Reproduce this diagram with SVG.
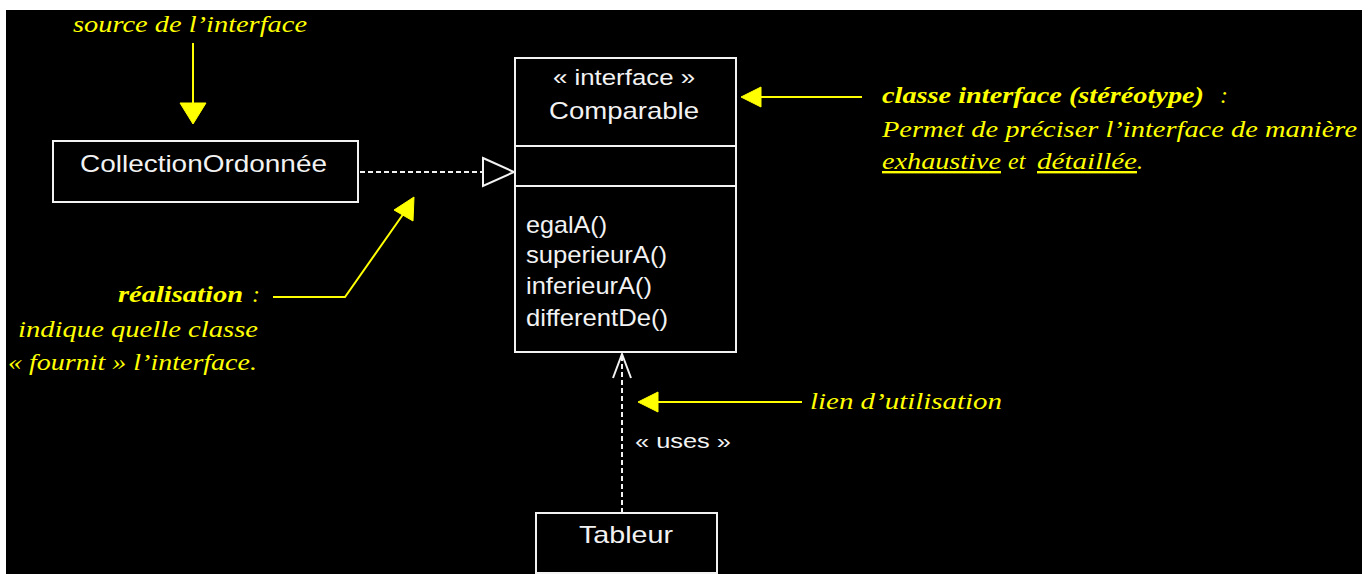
<svg xmlns="http://www.w3.org/2000/svg" width="1371" height="574" viewBox="0 0 1371 574">
<style>
.bg{fill:#000}
.box{fill:#000;stroke:#f2f2f2;stroke-width:2}
.w{fill:#f2f2f2;font-family:"Liberation Sans",Arial,sans-serif;font-size:24px}
.y{fill:#ffff00;font-family:"Liberation Serif","Times New Roman",serif;font-style:italic;font-size:24px}
.b{font-weight:bold}
.dash{fill:none;stroke:#f2f2f2;stroke-width:2;stroke-dasharray:5 3}
.open{fill:none;stroke:#f2f2f2;stroke-width:2}
.yl{fill:none;stroke:#ffff00;stroke-width:2}
.yh{fill:#ffff00;stroke:#ffff00;stroke-width:1}
</style>
<rect width="1371" height="574" fill="#fff"/>
<rect class="bg" x="6" y="10" width="1356" height="564"/>

<g id="connectors">
  <!-- realization -->
  <line class="dash" x1="360" y1="172" x2="482" y2="172"/>
  <polygon points="483,158 514,172 483,186" fill="#000" stroke="#f2f2f2" stroke-width="2"/>
  <!-- uses -->
  <line class="dash" x1="622" y1="513" x2="622" y2="355"/>
  <polyline class="open" points="613,378 622,354 631,378"/>
  <text class="w" x="635" y="448" textLength="96" lengthAdjust="spacingAndGlyphs" style="font-size:21px">« uses »</text>
</g>

<g id="CollectionOrdonnee">
  <rect class="box" x="53" y="141" width="305" height="61"/>
  <text class="w" x="80" y="172" textLength="247" lengthAdjust="spacingAndGlyphs">CollectionOrdonnée</text>
</g>

<g id="Comparable">
  <rect class="box" x="515" y="58" width="221" height="294"/>
  <line class="open" x1="515" y1="146" x2="736" y2="146"/>
  <line class="open" x1="515" y1="186" x2="736" y2="186"/>
  <text class="w" x="553" y="85" textLength="142" lengthAdjust="spacingAndGlyphs" style="font-size:22px">« interface »</text>
  <text class="w" x="549" y="119" textLength="150" lengthAdjust="spacingAndGlyphs">Comparable</text>
  <text class="w" x="526" y="233" textLength="81" lengthAdjust="spacingAndGlyphs">egalA()</text>
  <text class="w" x="526" y="263" textLength="141" lengthAdjust="spacingAndGlyphs">superieurA()</text>
  <text class="w" x="526" y="294" textLength="126" lengthAdjust="spacingAndGlyphs">inferieurA()</text>
  <text class="w" x="526" y="326" textLength="142" lengthAdjust="spacingAndGlyphs">differentDe()</text>
</g>

<g id="Tableur">
  <rect class="box" x="536" y="513" width="181" height="60"/>
  <text class="w" x="579" y="543" textLength="94" lengthAdjust="spacingAndGlyphs">Tableur</text>
</g>

<g id="note-source">
  <text class="y" x="73" y="32" textLength="234" lengthAdjust="spacingAndGlyphs">source de l’interface</text>
  <line class="yl" x1="193" y1="43" x2="193" y2="104"/>
  <polygon class="yh" points="180,103 206,103 193,124"/>
</g>

<g id="note-stereotype">
  <line class="yl" x1="755" y1="97" x2="862" y2="97"/>
  <polygon class="yh" points="741,97 761,87 761,107"/>
  <text class="y" x="882" y="103"><tspan class="b" textLength="322" lengthAdjust="spacingAndGlyphs">classe interface (stéréotype)</tspan><tspan x="1214"> :</tspan></text>
  <text class="y" x="882" y="137" textLength="475" lengthAdjust="spacingAndGlyphs">Permet de préciser l’interface de manière</text>
  <text class="y" x="882" y="169"><tspan text-decoration="underline" textLength="119" lengthAdjust="spacingAndGlyphs">exhaustive</tspan><tspan x="1008">et</tspan><tspan x="1037" text-decoration="underline" textLength="100" lengthAdjust="spacingAndGlyphs">détaillée</tspan><tspan>.</tspan></text>
</g>

<g id="note-realisation">
  <polyline class="yl" points="273,297 345,297 404,213"/>
  <polygon class="yh" points="414,197 394,210 413,221"/>
  <text class="y" x="118" y="302"><tspan class="b" textLength="125" lengthAdjust="spacingAndGlyphs">réalisation</tspan><tspan x="252">:</tspan></text>
  <text class="y" x="18" y="337" textLength="240" lengthAdjust="spacingAndGlyphs">indique quelle classe</text>
  <text class="y" x="8" y="370" textLength="249" lengthAdjust="spacingAndGlyphs">« fournit » l’interface.</text>
</g>

<g id="note-utilisation">
  <line class="yl" x1="655" y1="402" x2="802" y2="402"/>
  <polygon class="yh" points="638,402 658,392 658,412"/>
  <text class="y" x="810" y="409" textLength="192" lengthAdjust="spacingAndGlyphs">lien d’utilisation</text>
</g>
</svg>
